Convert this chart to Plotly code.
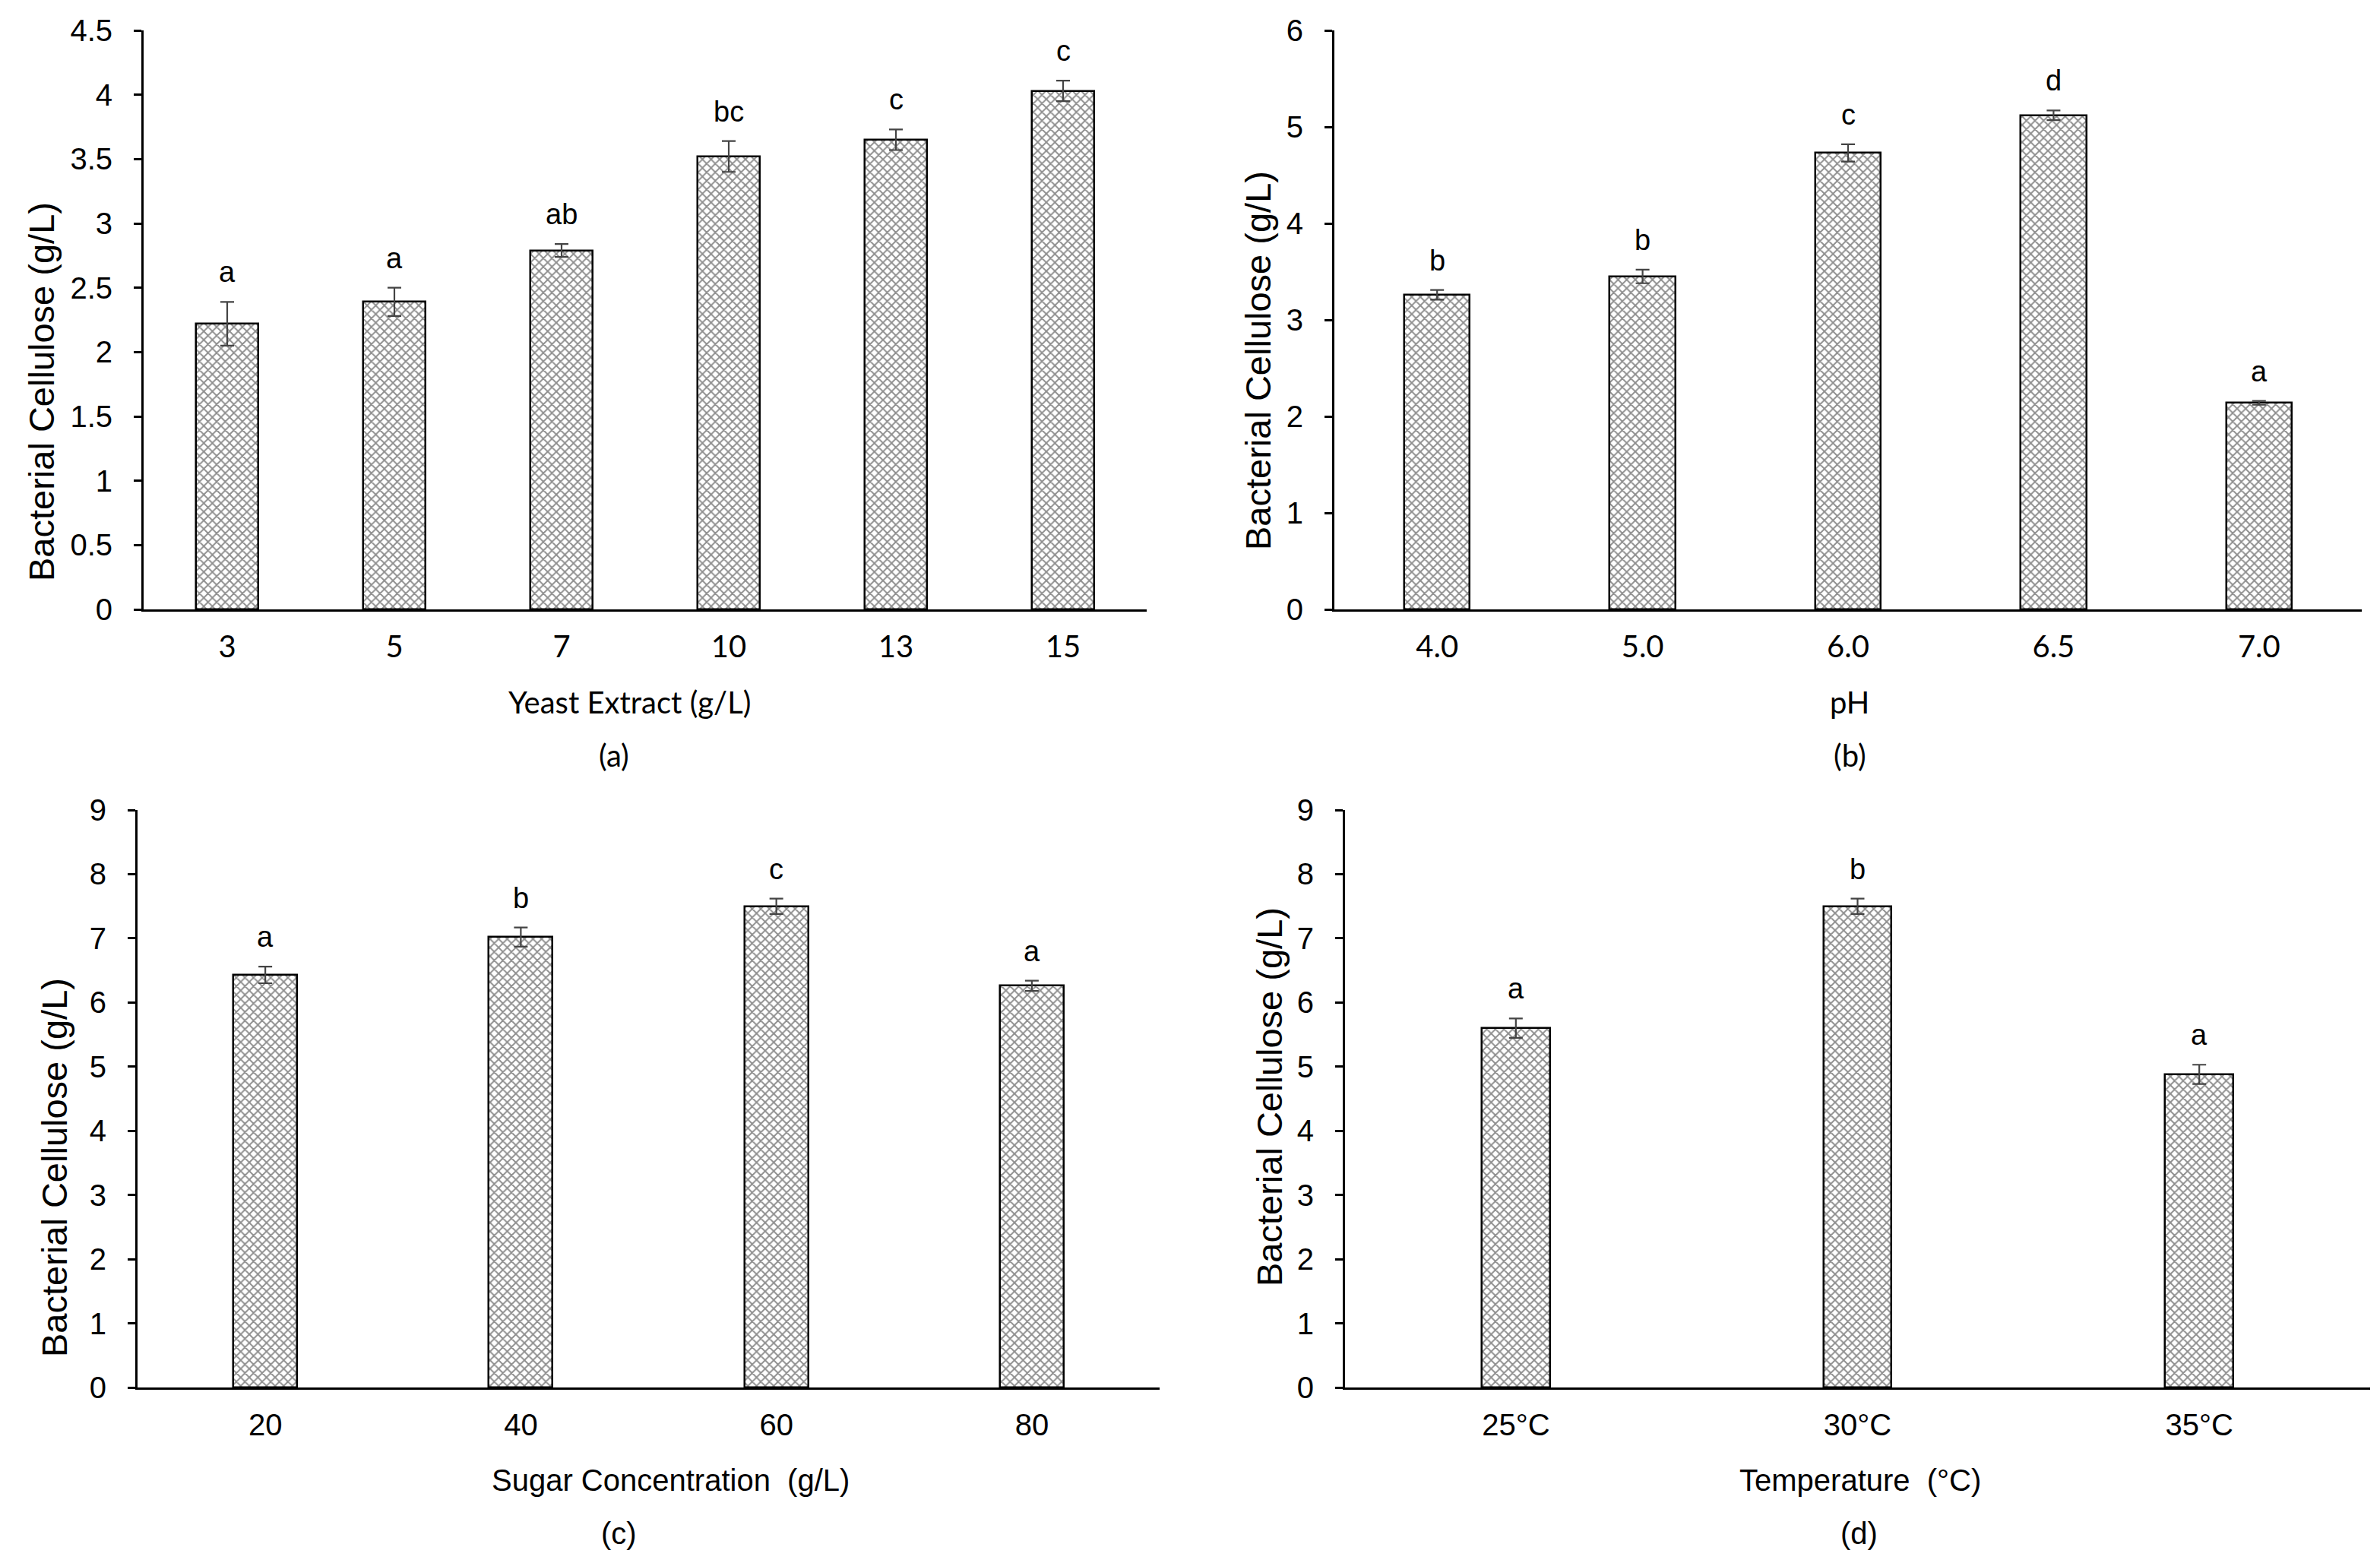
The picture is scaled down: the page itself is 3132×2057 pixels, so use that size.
import plotly.graph_objects as go

# Panel (a): yeast extract
yeast_labels = ["3", "5", "7", "10", "13", "15"]
yeast_bc = [2.22, 2.39, 2.79, 3.52, 3.65, 4.03]
yeast_err = [0.17, 0.11, 0.05, 0.12, 0.08, 0.08]
yeast_group = ["a", "a", "ab", "bc", "c", "c"]

# Panel (b): pH
ph_labels = ["4.0", "5.0", "6.0", "6.5", "7.0"]
ph_bc = [3.26, 3.45, 4.73, 5.12, 2.14]
ph_err = [0.05, 0.07, 0.09, 0.05, 0.02]
ph_group = ["b", "b", "c", "d", "a"]

# Panel (c): sugar concentration
sugar_labels = ["20", "40", "60", "80"]
sugar_bc = [6.43, 7.02, 7.50, 6.26]
sugar_err = [0.13, 0.15, 0.12, 0.08]
sugar_group = ["a", "b", "c", "a"]

# Panel (d): temperature
temp_labels = ["25°C", "30°C", "35°C"]
temp_bc = [5.60, 7.50, 4.88]
temp_err = [0.15, 0.12, 0.15]
temp_group = ["a", "b", "a"]

W, H = 3132, 2057
DY = 8  # page offset correction
ARIAL = "Liberation Sans, Arial, sans-serif"
CALIBRI = "Lato, Carlito, Calibri, sans-serif"

# positions below are in page pixels (left, top origin)
panels = [
    dict(lab=yeast_labels, val=yeast_bc, err=yeast_err, grp=yeast_group, bw=0.37,
         ymax=4.5, dtick=0.5, xd=[181, 1501], yd=[40, 802],
         xt="Yeast Extract (g/L)", xtfont=CALIBRI, tickfont=CALIBRI, xtx=820,
         tag="(a)", tagfont=CALIBRI, tagx=800, yt=(47, 516)),
    dict(lab=ph_labels, val=ph_bc, err=ph_err, grp=ph_group, bw=0.32,
         ymax=6, dtick=1, xd=[1748, 3100], yd=[40, 802],
         xt="pH", xtfont=CALIBRI, tickfont=CALIBRI, xtx=2426,
         tag="(b)", tagfont=CALIBRI, tagx=2426, yt=(1648, 475)),
    dict(lab=sugar_labels, val=sugar_bc, err=sugar_err, grp=sugar_group, bw=0.25,
         ymax=9, dtick=1, xd=[173, 1518], yd=[1066, 1826],
         xt="Sugar Concentration  (g/L)", xtfont=ARIAL, tickfont=ARIAL, xtx=874,
         tag="(c)", tagfont=ARIAL, tagx=806, yt=(63, 1537)),
    dict(lab=temp_labels, val=temp_bc, err=temp_err, grp=temp_group, bw=0.2,
         ymax=9, dtick=1, xd=[1762, 3111], yd=[1066, 1826],
         xt="Temperature  (°C)", xtfont=ARIAL, tickfont=ARIAL, xtx=2440,
         tag="(d)", tagfont=ARIAL, tagx=2438, yt=(1662, 1444)),
]

fig = go.Figure()
layout = {}
annotations = []

for i, p in enumerate(panels, start=1):
    sfx = "" if i == 1 else str(i)
    fig.add_trace(go.Bar(
        x=p["lab"], y=p["val"], width=p["bw"],
        xaxis="x" + sfx, yaxis="y" + sfx,
        marker=dict(
            color="white",
            line=dict(color="black", width=2.5),
            pattern=dict(shape="x", fgcolor="#1e1e1e", bgcolor="white",
                         size=8, solidity=0.42),
        ),
        error_y=dict(type="data", array=p["err"], visible=True,
                     color="#444444", thickness=2.2, width=9),
        showlegend=False,
    ))

    x0, x1 = p["xd"]
    y0, y1 = p["yd"][0] - DY, p["yd"][1] - DY
    layout["xaxis" + sfx] = dict(
        domain=[x0 / W, x1 / W], anchor="y" + sfx, type="category",
        range=[-0.5, len(p["lab"]) - 0.5],
        showline=True, linecolor="black", linewidth=3,
        ticks="", showgrid=False, zeroline=False, ticklabelstandoff=12,
        tickfont=dict(family=p["tickfont"], size=40, color="black"),
    )
    layout["yaxis" + sfx] = dict(
        domain=[1 - y1 / H, 1 - y0 / H], anchor="x" + sfx,
        range=[0, p["ymax"]], dtick=p["dtick"], tick0=0,
        showline=True, linecolor="black", linewidth=3,
        ticks="outside", ticklen=10, tickwidth=3, tickcolor="black",
        showgrid=False, zeroline=False, ticklabelstandoff=20,
        tickfont=dict(family=ARIAL, size=40, color="black"),
    )

    # significance letters above error bars (category index as x)
    for j, (v, e, g) in enumerate(zip(p["val"], p["err"], p["grp"])):
        annotations.append(dict(
            x=j, y=v + e, xref="x" + sfx, yref="y" + sfx,
            text=g, showarrow=False, yanchor="bottom", yshift=16,
            font=dict(family=ARIAL, size=38, color="black"),
        ))

    # x title, panel tag, y title
    annotations.append(dict(
        x=p["xtx"] / W, y=1 - (y1 + 122) / H, xref="paper", yref="paper",
        text=p["xt"], showarrow=False, xanchor="center", yanchor="middle",
        font=dict(family=p["xtfont"], size=40, color="black"),
    ))
    annotations.append(dict(
        x=p["tagx"] / W, y=1 - (y1 + 192) / H, xref="paper", yref="paper",
        text=p["tag"], showarrow=False, xanchor="center", yanchor="middle",
        font=dict(family=p["tagfont"], size=40, color="black"),
    ))
    annotations.append(dict(
        x=p["yt"][0] / W, y=1 - (p["yt"][1] - DY) / H, xref="paper", yref="paper",
        text="Bacterial Cellulose (g/L)", textangle=-90, showarrow=False,
        xanchor="center", yanchor="middle",
        font=dict(family=ARIAL, size=47, color="black"),
    ))

fig.update_layout(
    **layout,
    annotations=annotations,
    width=W, height=H,
    margin=dict(l=0, r=0, t=0, b=0, autoexpand=False),
    paper_bgcolor="white", plot_bgcolor="white",
    bargap=0,
)

fig.write_html("out.html")
